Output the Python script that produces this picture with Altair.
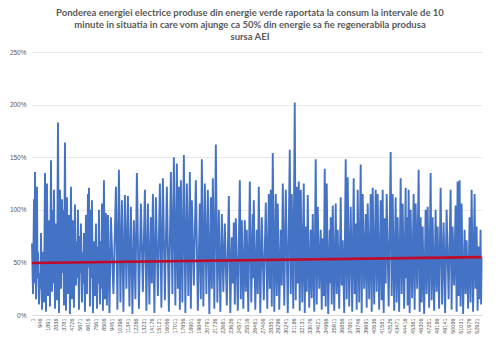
import altair as alt
import pandas as pd

# Interval index (10-minute intervals) and share of green energy in consumption (%)
interval = [1, 119, 238, 298, 357, 476, 595, 655, 714, 833, 952, 1012, 1071, 1190, 1309, 1428, 1547, 1666, 1785, 1904,
            2023, 2142, 2261, 2380, 2499, 2559, 2618, 2737, 2856, 2975, 3094, 3213, 3332, 3451, 3570, 3630, 3689, 3808, 3927, 4046,
            4165, 4284, 4403, 4522, 4641, 4760, 4879, 4998, 5117, 5236, 5355, 5415, 5474, 5593, 5712, 5772, 5831, 5950, 6069, 6129,
            6188, 6307, 6426, 6545, 6664, 6724, 6783, 6902, 7021, 7081, 7140, 7259, 7378, 7497, 7616, 7735, 7854, 7914, 7973, 8092,
            8211, 8271, 8330, 8449, 8568, 8687, 8806, 8925, 9044, 9223, 9401, 9699, 9996, 10175, 10353, 10532, 10710, 10889, 11067, 11246,
            11424, 11603, 11781, 11960, 12138, 12317, 12495, 12733, 12971, 13209, 13447, 13626, 13804, 13983, 14161, 14280, 14399, 14578, 14756, 14994,
            15232, 15411, 15589, 15827, 16065, 16303, 16541, 16720, 16898, 17077, 17255, 17374, 17493, 17612, 17731, 17910, 18088, 18267, 18445, 18624,
            18802, 18921, 19040, 19278, 19516, 19754, 19992, 20111, 20230, 20409, 20587, 20766, 20944, 21123, 21301, 21420, 21539, 21718, 21896, 22075,
            22253, 22432, 22610, 22789, 22967, 23205, 23443, 23622, 23800, 23919, 24038, 24157, 24276, 24514, 24752, 24871, 24990, 25169, 25347, 25466,
            25585, 25764, 25942, 26121, 26299, 26359, 26418, 26597, 26775, 26894, 27013, 27192, 27370, 27608, 27846, 28025, 28203, 28322, 28441, 28560,
            28679, 28858, 29036, 29155, 29274, 29453, 29631, 29750, 29869, 30048, 30226, 30464, 30702, 30821, 30940, 31119, 31297, 31416, 31535, 31654,
            31773, 31892, 32011, 32190, 32368, 32487, 32606, 32725, 32844, 33023, 33201, 33320, 33439, 33618, 33796, 33915, 34034, 34213, 34391, 34510,
            34629, 34748, 34867, 34986, 35105, 35284, 35462, 35522, 35581, 35700, 35819, 35998, 36176, 36295, 36414, 36593, 36771, 36890, 37009, 37188,
            37366, 37485, 37604, 37783, 37961, 38140, 38318, 38437, 38556, 38675, 38794, 38973, 39151, 39270, 39389, 39568, 39746, 39865, 39984, 40163,
            40341, 40460, 40579, 40758, 40936, 41055, 41174, 41353, 41531, 41650, 41769, 41888, 42007, 42126, 42245, 42483, 42721, 42840, 42959, 43138,
            43316, 43435, 43554, 43733, 43911, 44030, 44149, 44328, 44506, 44566, 44625, 44744, 44863, 44982, 45101, 45280, 45458, 45577, 45696, 45875,
            46053, 46172, 46291, 46410, 46529, 46708, 46886, 47005, 47124, 47303, 47481, 47600, 47719, 47898, 48076, 48195, 48314, 48493, 48671, 48850,
            49028, 49207, 49385, 49623, 49861, 49980, 50099, 50278, 50456, 50575, 50694, 50813, 50932, 51051, 51170, 51349, 51527, 51646, 51765, 51944,
            52122, 52241, 52360, 52539, 52717, 52836, 52955, 53074, 53193, 53312, 53431, 53491, 53550]

ponderea = [68, 20, 110, 30, 136, 15, 122, 35, 60, 10, 40, 25, 78, 5, 60, 12, 135, 3, 125, 18,
            90, 8, 147, 22, 100, 30, 119, 6, 87, 14, 183, 2, 119, 25, 110, 40, 100, 9, 164, 4,
            112, 20, 95, 1, 122, 15, 90, 7, 105, 28, 70, 35, 100, 5, 75, 40, 87, 12, 60, 30,
            78, 3, 95, 20, 115, 45, 121, 8, 100, 35, 109, 2, 70, 18, 87, 6, 65, 30, 100, 10,
            70, 25, 106, 4, 128, 15, 97, 9, 95, 2, 93, 20, 122, 5, 138, 12, 109, 3, 114, 25,
            113, 8, 103, 1, 90, 15, 135, 6, 106, 22, 119, 4, 106, 10, 93, 30, 115, 2, 112, 18,
            125, 7, 130, 14, 122, 3, 136, 20, 150, 9, 144, 25, 122, 5, 128, 12, 152, 2, 125, 18,
            136, 6, 109, 28, 128, 4, 106, 15, 148, 8, 125, 20, 119, 1, 112, 25, 130, 6, 162, 12,
            100, 3, 96, 22, 87, 9, 113, 2, 74, 30, 88, 10, 92, 4, 128, 15, 90, 6, 90, 22,
            81, 3, 127, 12, 96, 35, 109, 5, 81, 20, 122, 2, 93, 14, 107, 6, 115, 25, 119, 8,
            154, 3, 115, 18, 106, 5, 81, 28, 125, 9, 119, 2, 157, 20, 115, 6, 202, 14, 122, 30,
            127, 4, 119, 12, 125, 2, 84, 22, 114, 7, 81, 16, 96, 3, 148, 10, 103, 25, 81, 5,
            73, 18, 139, 8, 125, 1, 81, 30, 93, 10, 104, 4, 106, 20, 81, 6, 112, 28, 71, 2,
            148, 15, 131, 8, 103, 3, 130, 20, 87, 5, 119, 12, 143, 2, 115, 25, 96, 7, 106, 15,
            115, 3, 121, 10, 119, 22, 115, 5, 109, 14, 119, 2, 92, 30, 115, 8, 155, 18, 115, 4,
            112, 12, 93, 3, 130, 20, 106, 6, 121, 35, 93, 9, 119, 2, 100, 16, 115, 5, 106, 25,
            138, 3, 93, 12, 84, 1, 100, 20, 103, 7, 135, 14, 93, 4, 100, 22, 84, 6, 121, 10,
            88, 2, 100, 15, 119, 5, 84, 28, 104, 3, 127, 18, 128, 8, 106, 1, 81, 20, 71, 6,
            93, 12, 119, 3, 115, 25, 84, 4, 65, 15, 81, 10, 55]

trend_x = [1, 53550]
trend_y = [49.5, 55.0]

y_ticks = [0, 50, 100, 150, 200, 250]
x_ticks = [1, 946, 1891, 2836, 3781, 4726, 5671, 6616, 7561, 8506, 9451, 10396, 11341, 12286, 13231,
           14176, 15121, 16066, 17011, 17956, 18901, 19846, 20791, 21736, 22681, 23626, 24571, 25516,
           26461, 27406, 28351, 29296, 30241, 31186, 32131, 33076, 34021, 34966, 35911, 36856, 37801,
           38746, 39691, 40636, 41581, 42526, 43471, 44416, 45361, 46306, 47251, 48196, 49141, 50086,
           51031, 51976, 52921]

title_lines = [
    "Ponderea energiei electrice produse din energie verde raportata la consum la intervale de 10",
    "minute in situatia in care vom ajunge ca 50% din energie sa fie regenerabila produsa",
    "sursa AEI",
]

df = pd.DataFrame({"interval": interval, "ponderea": ponderea})
df_trend = pd.DataFrame({"interval": trend_x, "ponderea": trend_y})

x_scale = alt.Scale(domain=[0, 53600], nice=False, zero=False)
y_scale = alt.Scale(domain=[0, 250], nice=False)

x_axis = alt.Axis(values=x_ticks, labelAngle=270, labelFontSize=5.5, labelColor="#595959",
                  labelFont="Liberation Sans", grid=False, ticks=False, domain=True,
                  domainColor="#D9D9D9", labelPadding=3, title=None, labelOverlap=False,
                  labelBound=False, labelFlush=False, format="d")
y_axis = alt.Axis(values=y_ticks, labelFontSize=6.5, labelColor="#595959", labelFont="Liberation Sans",
                  grid=True, gridColor="#E3E3E3", gridWidth=0.8, ticks=False, domain=False,
                  labelPadding=6, title=None, labelExpr="datum.value + '%'")

line = alt.Chart(df).mark_line(color="#4472C4", strokeWidth=1.9, strokeJoin="miter").encode(
    x=alt.X("interval:Q", scale=x_scale, axis=x_axis),
    y=alt.Y("ponderea:Q", scale=y_scale, axis=y_axis),
)

trend = alt.Chart(df_trend).mark_line(color="#C00A28", strokeWidth=2.6).encode(
    x=alt.X("interval:Q", scale=x_scale, axis=x_axis),
    y=alt.Y("ponderea:Q", scale=y_scale, axis=y_axis),
)

chart = (line + trend).properties(
    width=450,
    height=263,
    title=alt.TitleParams(text=title_lines, fontSize=9.5, font="Lato", fontWeight="bold",
                          color="#595959", anchor="middle", lineHeight=12.3, offset=7, dx=-7),
    autosize=alt.AutoSizeParams(type="none"),
    padding={"left": 32, "top": 52, "right": 18, "bottom": 36},
).configure(
    background="white",
    view=alt.ViewConfig(stroke=None),
    axisX=alt.AxisConfig(labelOverlap=False),
)

chart.save("out.html", embed_options={"renderer": "svg", "actions": False})
